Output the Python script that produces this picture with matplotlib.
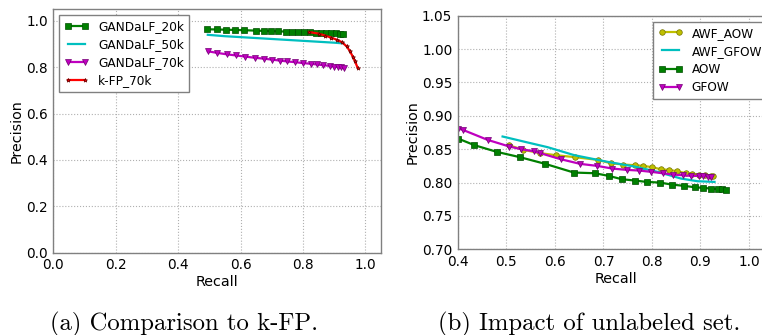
import numpy as np
import matplotlib
matplotlib.use("Agg")
import matplotlib.pyplot as plt

# --- (a) comparison to k-FP ---
g20k_recall = [0.491, 0.523, 0.552, 0.582, 0.610, 0.649, 0.674, 0.697, 0.719, 0.744,
               0.766, 0.783, 0.802, 0.822, 0.841, 0.859, 0.875, 0.891, 0.907, 0.920, 0.928]
g20k_prec = [0.964, 0.963, 0.962, 0.961, 0.960, 0.958, 0.957, 0.956, 0.955, 0.954,
             0.953, 0.952, 0.951, 0.950, 0.949, 0.948, 0.947, 0.946, 0.946, 0.945, 0.945]

g50k_recall = [0.495, 0.55, 0.60, 0.65, 0.70, 0.75, 0.80, 0.85, 0.90, 0.93]
g50k_prec = [0.940, 0.934, 0.930, 0.926, 0.922, 0.918, 0.914, 0.910, 0.906, 0.903]

g70k_recall = [0.495, 0.525, 0.555, 0.585, 0.615, 0.645, 0.675, 0.700, 0.725, 0.750,
               0.775, 0.800, 0.825, 0.845, 0.865, 0.885, 0.900, 0.912, 0.922, 0.930]
g70k_prec = [0.869, 0.862, 0.856, 0.851, 0.846, 0.841, 0.837, 0.833, 0.829, 0.825,
             0.822, 0.818, 0.815, 0.812, 0.809, 0.806, 0.803, 0.801, 0.799, 0.797]

kfp_recall = [0.82, 0.85, 0.87, 0.89, 0.91, 0.925, 0.94, 0.95, 0.96, 0.967, 0.975]
kfp_prec = [0.952, 0.945, 0.937, 0.928, 0.918, 0.908, 0.890, 0.870, 0.845, 0.825, 0.798]

# --- (b) impact of unlabeled set ---
awf_aow_recall = [0.505, 0.535, 0.570, 0.602, 0.642, 0.688, 0.715, 0.741, 0.765, 0.782,
                  0.801, 0.818, 0.835, 0.852, 0.870, 0.883, 0.897, 0.909, 0.921, 0.925]
awf_aow_prec = [0.856, 0.849, 0.844, 0.841, 0.838, 0.834, 0.829, 0.827, 0.826, 0.825,
                0.823, 0.820, 0.819, 0.817, 0.814, 0.813, 0.812, 0.811, 0.810, 0.810]

awf_gfow_recall = [0.492, 0.544, 0.585, 0.640, 0.709, 0.764, 0.812, 0.860, 0.894, 0.929]
awf_gfow_prec = [0.869, 0.860, 0.853, 0.841, 0.831, 0.824, 0.816, 0.806, 0.802, 0.801]

aow_recall = [0.400, 0.434, 0.480, 0.528, 0.580, 0.639, 0.682, 0.711, 0.738, 0.765,
              0.789, 0.816, 0.841, 0.867, 0.888, 0.906, 0.922, 0.937, 0.945, 0.953]
aow_prec = [0.866, 0.856, 0.846, 0.838, 0.828, 0.815, 0.814, 0.810, 0.805, 0.803,
            0.801, 0.800, 0.797, 0.795, 0.793, 0.792, 0.791, 0.790, 0.790, 0.789]

gfow_recall = [0.400, 0.410, 0.461, 0.506, 0.530, 0.556, 0.570, 0.612, 0.652, 0.687,
               0.718, 0.748, 0.774, 0.799, 0.822, 0.843, 0.863, 0.880, 0.896, 0.906,
               0.915, 0.922]
gfow_prec = [0.881, 0.879, 0.864, 0.854, 0.850, 0.847, 0.844, 0.835, 0.828, 0.825,
             0.821, 0.819, 0.818, 0.816, 0.814, 0.812, 0.811, 0.810, 0.810, 0.810,
             0.809, 0.809]

plt.rcParams['font.family'] = 'DejaVu Sans'

fig = plt.figure(figsize=(7.62, 3.35), dpi=100)
ax1 = fig.add_axes([0.070, 0.2457, 0.430, 0.7265])
ax2 = fig.add_axes([0.601, 0.2558, 0.4137, 0.6973])

G = (0, 0.5, 0)
C = (0, 0.75, 0.75)
M = (0.75, 0, 0.75)
Y = (0.75, 0.75, 0)
R = (1, 0, 0)

ax1.plot(g20k_recall, g20k_prec, color=G, lw=1.6, marker='s', ms=4, mec=(0, 0.3, 0), mew=0.5, label='GANDaLF_20k')
ax1.plot(g50k_recall, g50k_prec, color=C, lw=1.6, label='GANDaLF_50k')
ax1.plot(g70k_recall, g70k_prec, color=M, lw=1.6, marker='v', ms=4, mec=(0.45, 0, 0.45), mew=0.5, label='GANDaLF_70k')
ax1.plot(kfp_recall, kfp_prec, color=R, lw=1.6, marker='*', ms=3, mec=(0.4, 0, 0), mew=0.5, label='k-FP_70k')

ax2.plot(awf_aow_recall, awf_aow_prec, color=Y, lw=1.6, marker='o', ms=4, mec=(0.45, 0.45, 0), mew=0.5, label='AWF_AOW')
ax2.plot(awf_gfow_recall, awf_gfow_prec, color=C, lw=1.6, label='AWF_GFOW')
ax2.plot(aow_recall, aow_prec, color=G, lw=1.6, marker='s', ms=4.5, mec=(0, 0.3, 0), mew=0.5, label='AOW')
ax2.plot(gfow_recall, gfow_prec, color=M, lw=1.6, marker='v', ms=4, mec=(0.45, 0, 0.45), mew=0.5, label='GFOW')

ax1.set_xlim(0, 1.05)
ax1.set_ylim(0, 1.05)
ax1.set_xticks(np.arange(0, 1.01, 0.2))
ax1.set_yticks(np.arange(0, 1.01, 0.2))
ax1.set_xticklabels(['0.0', '0.2', '0.4', '0.6', '0.8', '1.0'])
ax1.set_yticklabels(['0.0', '0.2', '0.4', '0.6', '0.8', '1.0'])

ax2.set_xlim(0.4, 1.05)
ax2.set_ylim(0.70, 1.05)
ax2.set_xticks(np.arange(0.4, 1.01, 0.1))
ax2.set_yticks(np.arange(0.70, 1.051, 0.05))
ax2.set_xticklabels(['0.4', '0.5', '0.6', '0.7', '0.8', '0.9', '1.0'])
ax2.set_yticklabels(['0.70', '0.75', '0.80', '0.85', '0.90', '0.95', '1.00', '1.05'])

for ax in (ax1, ax2):
    ax.grid(True, color='#b0b0b0', linestyle=':', linewidth=0.8)
    ax.tick_params(length=0, labelsize=9.8, pad=4)
    for s in ax.spines.values():
        s.set_color('#808080')
        s.set_linewidth(1.0)
    ax.set_xlabel('Recall', fontsize=10.3, labelpad=2)
    ax.set_ylabel('Precision', fontsize=10.3, labelpad=2)
    leg = ax.legend(loc='upper left' if ax is ax1 else 'upper right', fontsize=8.7,
                    numpoints=2, labelspacing=0.42, fancybox=False, framealpha=1,
                    edgecolor='#808080')
    leg.get_frame().set_linewidth(1.0)

fig.text(0.241, 0.015, '(a) Comparison to k-FP.', family='cmr10', fontsize=17.8, ha='center', va='baseline')
fig.text(0.773, 0.015, '(b) Impact of unlabeled set.', family='cmr10', fontsize=17.8, ha='center', va='baseline')

fig.savefig('out.png', dpi=100)
